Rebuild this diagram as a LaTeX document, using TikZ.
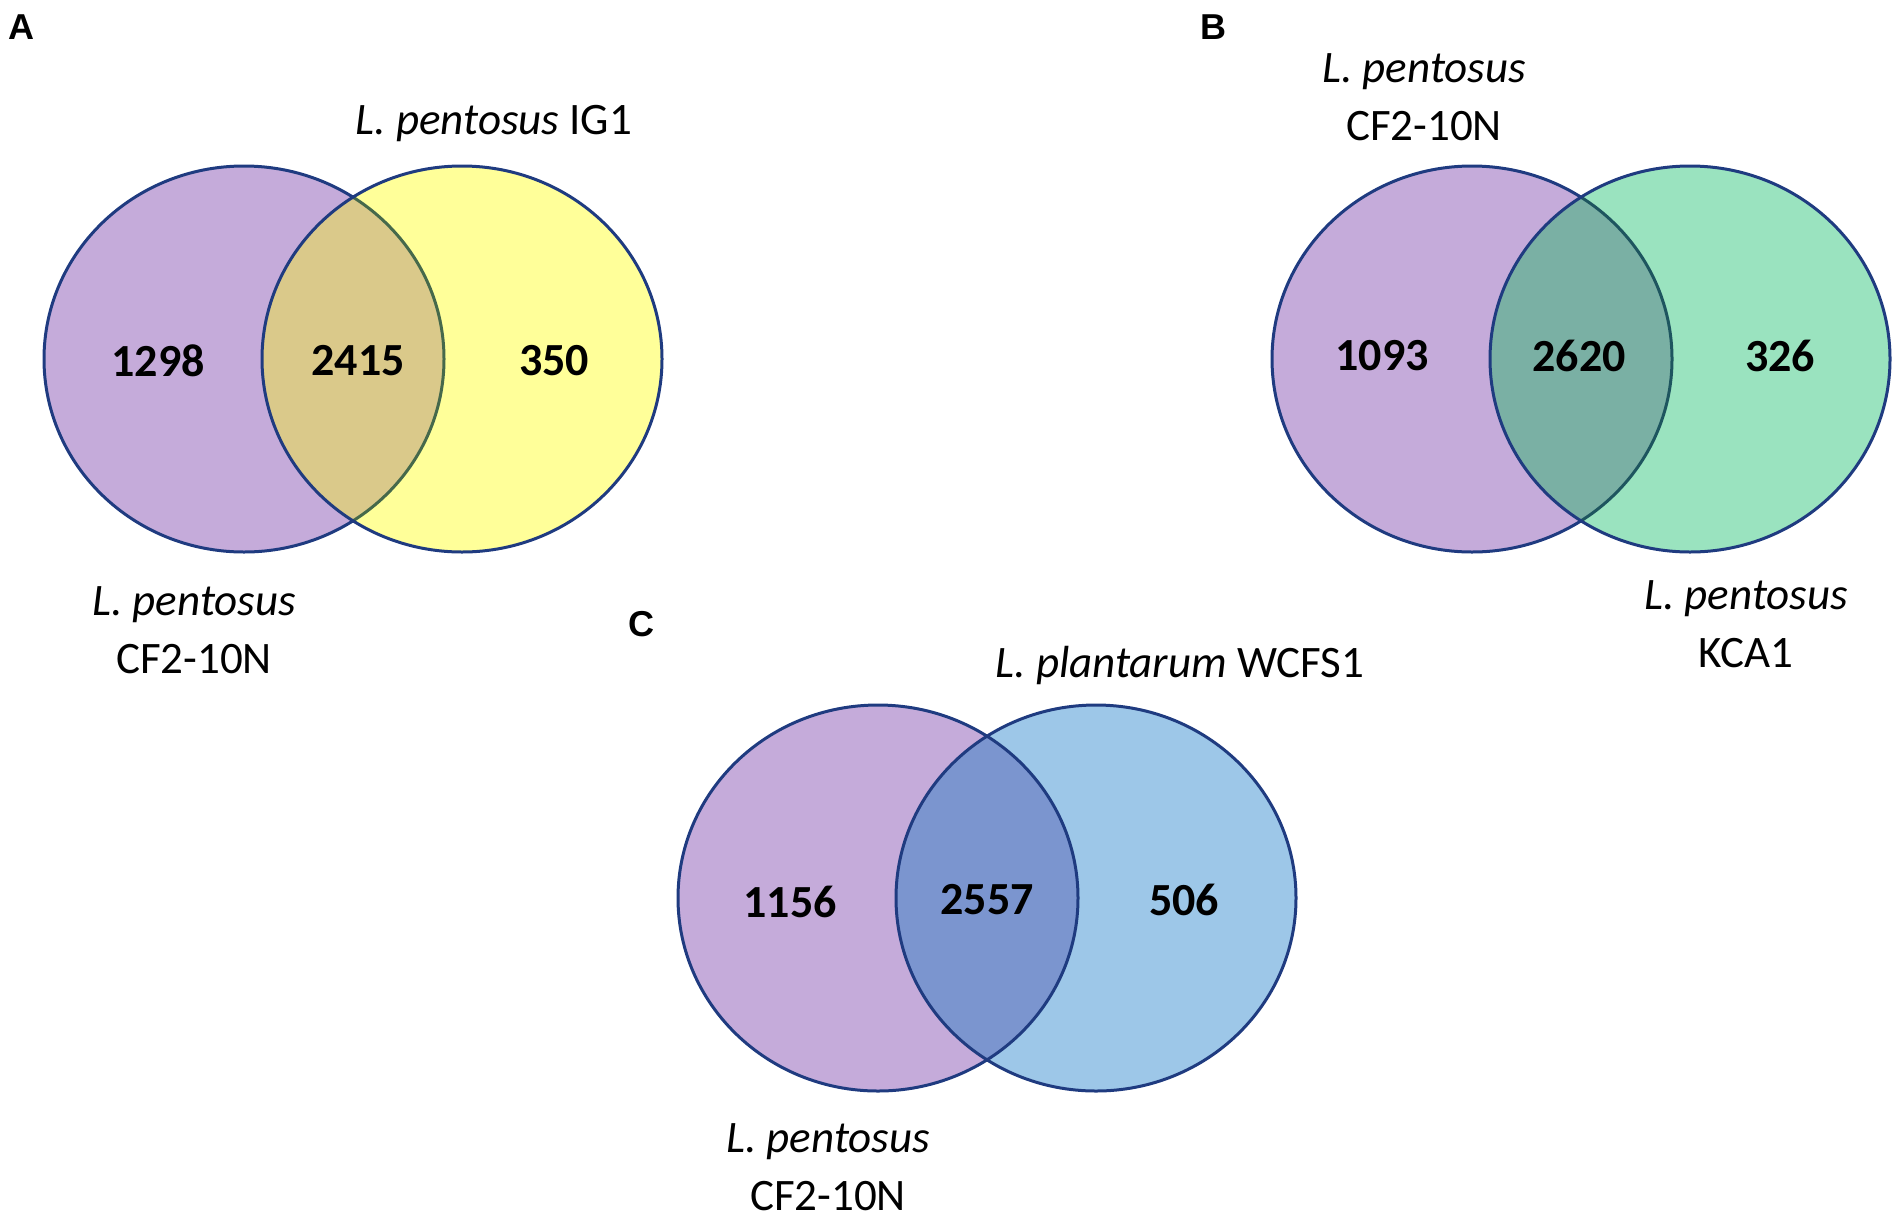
\documentclass[tikz,border=0pt]{standalone}
\usepackage{fontspec}
\setmainfont{Carlito}
\newfontfamily\panelfont{Liberation Sans}
\definecolor{vennEdge}{RGB}{31,59,128}
\definecolor{vennPurple}{RGB}{197,171,218}
\definecolor{vennYellow}{RGB}{255,255,153}
\definecolor{vennGreen}{RGB}{154,227,191}
\definecolor{vennBlue}{RGB}{157,199,232}
\definecolor{overlapA}{RGB}{218,201,138}
\definecolor{overlapB}{RGB}{122,176,164}
\definecolor{overlapC}{RGB}{123,149,207}
\definecolor{arcA}{RGB}{70,105,75}
\definecolor{arcB}{RGB}{30,85,95}
\definecolor{arcC}{RGB}{31,59,128}
\newcommand{\vennRx}{200}
\newcommand{\vennRy}{193}
\newcommand{\lpent}{\textit{L. pentosus}}
\newcommand{\lplant}{\textit{L. plantarum}}

\begin{document}
\begin{tikzpicture}[x=0.5pt, y=-0.5pt,
   count/.style={font=\fontsize{23}{27}\selectfont\bfseries, inner sep=0pt},
   taxon/.style={font=\fontsize{22.5}{29}\selectfont, align=center, inner sep=0pt},
   panel/.style={font=\panelfont\bfseries\fontsize{18}{20}\selectfont, inner sep=0pt},
   venn/.style={draw=vennEdge, line width=1.5pt}]
   \useasboundingbox (0,0) rectangle (1904,1221);

   % panel A
   \fill[vennPurple] (244,359) ellipse [x radius=\vennRx, y radius=\vennRy];
   \draw[venn] (244,359) ellipse [x radius=\vennRx, y radius=\vennRy];
   \fill[vennYellow] (462,359) ellipse [x radius=\vennRx, y radius=\vennRy];
   \begin{scope}
      \clip (462,359) ellipse [x radius=\vennRx, y radius=\vennRy];
      \fill[overlapA] (244,359) ellipse [x radius=\vennRx, y radius=\vennRy];
      \draw[venn, draw=arcA] (244,359) ellipse [x radius=\vennRx, y radius=\vennRy];
   \end{scope}
   \draw[venn] (462,359) ellipse [x radius=\vennRx, y radius=\vennRy];

   \node (panelA) [panel] at (21,27) {A};
   \node (topA) [taxon] at (494,124) {\lpent{} IG1};
   \node (bottomA) [taxon] at (194,630) {\lpent\\CF2-10N};
   \node (onlyA1) [count] at (158,361) {1298};
   \node (bothA) [count] at (358,361) {2415};
   \node (onlyA2) [count] at (554,361) {350};

   % panel B
   \fill[vennPurple] (1472,359) ellipse [x radius=\vennRx, y radius=\vennRy];
   \draw[venn] (1472,359) ellipse [x radius=\vennRx, y radius=\vennRy];
   \fill[vennGreen] (1690,359) ellipse [x radius=\vennRx, y radius=\vennRy];
   \begin{scope}
      \clip (1690,359) ellipse [x radius=\vennRx, y radius=\vennRy];
      \fill[overlapB] (1472,359) ellipse [x radius=\vennRx, y radius=\vennRy];
      \draw[venn, draw=arcB] (1472,359) ellipse [x radius=\vennRx, y radius=\vennRy];
   \end{scope}
   \draw[venn] (1690,359) ellipse [x radius=\vennRx, y radius=\vennRy];

   \node (panelB) [panel] at (1213,27) {B};
   \node (topB) [taxon] at (1424,97) {\lpent\\CF2-10N};
   \node (bottomB) [taxon] at (1746,624) {\lpent\\KCA1};
   \node (onlyB1) [count] at (1382,356) {1093};
   \node (bothB) [count] at (1579,356) {2620};
   \node (onlyB2) [count] at (1780,356) {326};

   % panel C
   \fill[vennPurple] (878,898) ellipse [x radius=\vennRx, y radius=\vennRy];
   \draw[venn] (878,898) ellipse [x radius=\vennRx, y radius=\vennRy];
   \fill[vennBlue] (1096,898) ellipse [x radius=\vennRx, y radius=\vennRy];
   \begin{scope}
      \clip (1096,898) ellipse [x radius=\vennRx, y radius=\vennRy];
      \fill[overlapC] (878,898) ellipse [x radius=\vennRx, y radius=\vennRy];
      \draw[venn, draw=arcC] (878,898) ellipse [x radius=\vennRx, y radius=\vennRy];
   \end{scope}
   \draw[venn] (1096,898) ellipse [x radius=\vennRx, y radius=\vennRy];

   \node (panelC) [panel] at (641,624) {C};
   \node (topC) [taxon] at (1180,665) {\lplant{} WCFS1};
   \node (bottomC) [taxon] at (828,1167) {\lpent\\CF2-10N};
   \node (onlyC1) [count] at (790,902) {1156};
   \node (bothC) [count] at (987,900) {2557};
   \node (onlyC2) [count] at (1184,900) {506};
\end{tikzpicture}
\end{document}
